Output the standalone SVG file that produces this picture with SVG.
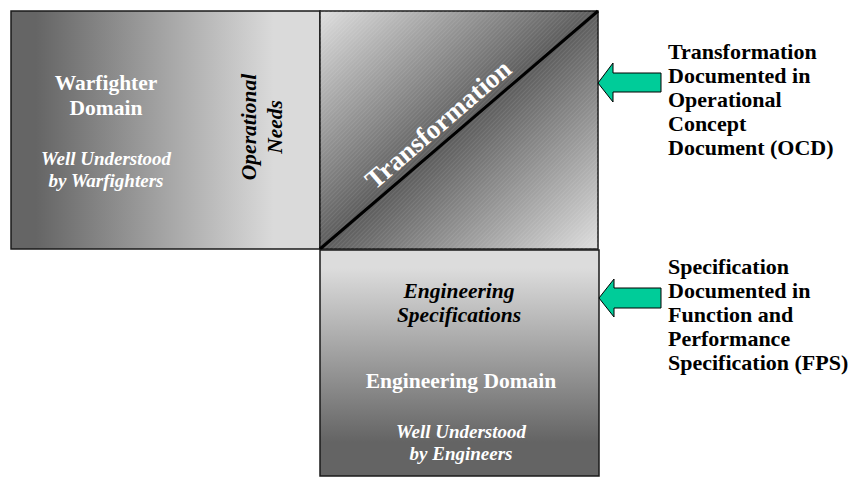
<svg xmlns="http://www.w3.org/2000/svg" width="851" height="477" viewBox="0 0 851 477">
<defs>
<linearGradient id="gLeft" x1="11" y1="0" x2="320" y2="0" gradientUnits="userSpaceOnUse">
<stop offset="0.08" stop-color="#656565"/>
<stop offset="0.85" stop-color="#dadada"/>
</linearGradient>
<linearGradient id="gMid" x1="341" y1="-7" x2="577" y2="267" gradientUnits="userSpaceOnUse">
<stop offset="0" stop-color="#dedede"/>
<stop offset="0.5" stop-color="#5c5c5c"/>
<stop offset="1" stop-color="#dedede"/>
</linearGradient>
<linearGradient id="gBot" x1="0" y1="250" x2="0" y2="476" gradientUnits="userSpaceOnUse">
<stop offset="0.08" stop-color="#dcdcdc"/>
<stop offset="0.85" stop-color="#646464"/>
</linearGradient>
<pattern id="hatch" width="3" height="3" patternUnits="userSpaceOnUse" patternTransform="rotate(45)">
<line x1="0" y1="0" x2="0" y2="3" stroke="#ffffff" stroke-width="1" stroke-opacity="0.18"/>
</pattern>
</defs>
<style>
.box{stroke:#1a1a1a;stroke-width:1.5}
.t{font-family:"Liberation Serif","Times New Roman",serif;font-weight:bold}
.w{fill:#ffffff}
.k{fill:#000000}
.i{font-style:italic}
.arrow{fill:#00cc99;stroke:#000;stroke-width:1}
</style>
<g id="warfighter">
<rect class="box" x="11" y="11" width="309" height="238" fill="url(#gLeft)"/>
<text class="t w" x="106" y="90" font-size="21.5" text-anchor="middle">Warfighter</text>
<text class="t w" x="106" y="115" font-size="21.5" text-anchor="middle">Domain</text>
<text class="t w i" x="106" y="165" font-size="19" text-anchor="middle">Well Understood</text>
<text class="t w i" x="106" y="187" font-size="19" text-anchor="middle">by Warfighters</text>
<text class="t k i" font-size="21.5" text-anchor="middle" transform="translate(256,127) rotate(-90)">Operational</text>
<text class="t k i" font-size="21.5" text-anchor="middle" transform="translate(282,127) rotate(-90)">Needs</text>
</g>
<g id="transformation">
<rect class="box" x="320" y="11" width="278" height="238" fill="url(#gMid)"/>
<rect x="320" y="11" width="278" height="238" fill="url(#hatch)"/>
<line x1="320" y1="249" x2="598" y2="11" stroke="#000" stroke-width="3"/>
<text class="t w" font-size="27" text-anchor="middle" transform="translate(444,131) rotate(-40.6)">Transformation</text>
</g>
<g id="engineering">
<rect class="box" x="320" y="250" width="279" height="226" fill="url(#gBot)"/>
<text class="t k i" x="459" y="298" font-size="21.5" text-anchor="middle">Engineering</text>
<text class="t k i" x="459" y="322" font-size="21.5" text-anchor="middle">Specifications</text>
<text class="t w" x="461" y="388" font-size="21.5" text-anchor="middle">Engineering Domain</text>
<text class="t w i" x="461" y="438" font-size="19" text-anchor="middle">Well Understood</text>
<text class="t w i" x="461" y="460" font-size="19" text-anchor="middle">by Engineers</text>
</g>
<g id="connectors">
<polygon class="arrow" points="598,83 613,63 613,73 661,73 661,92 613,92 613,102"/>
<polygon class="arrow" points="599,298 614,279 614,288 661,288 661,308 614,308 614,317"/>
</g>
<g id="ocd-note">
<text class="t k" font-size="22" x="668"><tspan x="668" y="59">Transformation</tspan><tspan x="668" y="83">Documented in</tspan><tspan x="668" y="107">Operational</tspan><tspan x="668" y="131">Concept</tspan><tspan x="668" y="155">Document (OCD)</tspan></text>
</g>
<g id="fps-note">
<text class="t k" font-size="22" x="668"><tspan x="668" y="274">Specification</tspan><tspan x="668" y="298">Documented in</tspan><tspan x="668" y="322">Function and</tspan><tspan x="668" y="346">Performance</tspan><tspan x="668" y="370">Specification (FPS)</tspan></text>
</g>
</svg>
